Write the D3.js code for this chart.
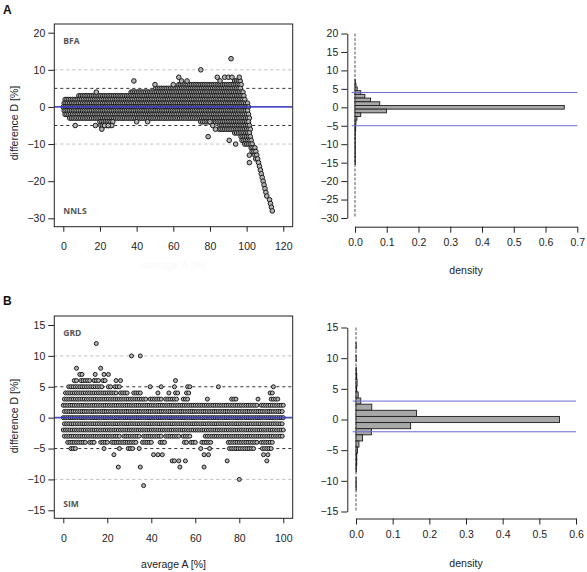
<!DOCTYPE html>
<html>
<head>
<meta charset="utf-8">
<script src="https://cdn.jsdelivr.net/npm/d3@7"></script>
<style>
  html, body { margin: 0; padding: 0; background: #fff; }
  svg { display: block; }
</style>
</head>
<body>
<svg id="chart" width="587" height="572"></svg>
<script>
// ---------------- DATA ----------------
// Panel A (BFA vs NNLS) scatter: difference rows and x-extents of dense band
const aRowY = [7, 6, 5, 4, 3, 2, 1, 0, -1, -2, -3, -4, -5, -6, -7, -8, -9, -10];
const aRowSegs = [
  [[93.5, 96.5]],
  [[63, 97]],
  [[50.5, 96.5]],
  [[37, 98]],
  [[8.5, 98.5]],
  [[1, 99]],
  [[0.5, 100.5]],
  [[0, 101]],
  [[0.5, 100.5]],
  [[1, 101]],
  [[3.5, 101.5]],
  [[20, 27], [75, 101]],
  [[20.5, 26.5], [85.5, 101.5]],
  [[85, 102]],
  [[93.5, 101.5]],
  [[97, 102]],
  [[97.5, 102.5]],
  [[99, 103]]
];
// Panel A isolated points
const aOutX = [6.5, 17.5, 18, 21, 22.5, 24.5, 38.5, 40, 46, 50, 60, 63, 64.5, 67.5, 75, 79, 84, 85.5, 88, 90, 92, 91.5, 90.5, 94, 80, 81.5, 83, 96];
const aOutY = [-5, -5, 4, -6, -5, -5, 7, -4, -4, 6, 6, 8, 7, 7, 10, -8, 8, 7, 8, 8, 8, 13, -9, -10, -4, -5, -6, 8];
// Panel A tail beyond 100
const aTailX = [101.5, 101.5, 102.5, 103.5, 104.5, 103, 104, 105, 104.5, 105.5, 105, 106, 106.5, 107, 107.5, 108, 108.5, 109, 109.5, 110, 110.5, 111, 112.5, 113, 113.5, 114];
const aTailY = [-13, -15, -11, -11, -11, -12, -12, -12, -13, -13, -14, -14, -15, -16, -17, -18, -19, -20, -21, -22, -23, -24, -25, -26, -27, -28];

// Panel A histogram (density per 1%-bin, centred on integer differences)
const aHistBins = [7, 6, 5, 4, 3, 2, 1, 0, -1, -2, -3, -4, -5, -6, -7, -8, -9, -10, -11, -12, -13, -14, -15];
const aHistDens = [0.001, 0.003, 0.007, 0.018, 0.031, 0.049, 0.078, 0.659, 0.099, 0.018, 0.006, 0.003, 0.002, 0.002, 0.001, 0.001, 0.001, 0.001, 0.001, 0.001, 0.001, 0.001, 0.001];
const aLimits = [4, -5];

// Panel B (GRD vs SIM) scatter rows
const bRowY = [12, 10, 8, 7, 6, 5, 4, 3, 2, 1, 0, -1, -2, -3, -4, -5, -6, -7, -8, -10, -11];
const bRowSegs = [
  [[15, 15]],
  [[31, 31], [35, 35]],
  [[6, 6], [17, 17]],
  [[7.5, 8.5], [14.5, 14.5], [18.5, 18.5], [20.5, 20.5]],
  [[5, 6], [8, 12], [14, 16], [18, 19], [24, 24], [26, 26], [51, 51]],
  [[2.5, 17.5], [20.5, 21.5], [23.5, 25.5], [39.5, 39.5], [44.5, 44.5], [50.5, 50.5], [56.5, 57.5], [70.5, 70.5], [95.5, 95.5]],
  [[1, 12], [13, 21], [22, 24], [26, 29], [32, 35], [43, 43], [48, 48], [51, 52], [56, 57], [94, 95]],
  [[0.5, 37.5], [39.5, 44.5], [46.5, 51.5], [54.5, 56.5], [65.5, 65.5], [76.5, 78.5], [88.5, 88.5], [94.5, 97.5]],
  [[0, 88], [90, 100]],
  [[0.5, 99.5]],
  [[0, 100]],
  [[0.5, 99.5]],
  [[0, 100]],
  [[0.5, 25.5], [27.5, 34.5], [36.5, 44.5], [46.5, 52.5], [54.5, 57.5], [64.5, 99.5]],
  [[2, 10], [12, 14], [17, 20], [22, 33], [36, 40], [44, 46], [55, 56], [58, 60], [63, 67], [75, 88], [90, 95]],
  [[3.5, 5.5], [18.5, 18.5], [25.5, 25.5], [29.5, 31.5], [34.5, 34.5], [62.5, 62.5], [66.5, 66.5], [75.5, 86.5], [90.5, 94.5]],
  [[23, 23], [41, 41], [43, 43], [45, 45], [64, 64], [66, 66], [91, 91], [93, 93]],
  [[49.5, 49.5], [50.5, 50.5], [52.5, 52.5], [55.5, 55.5], [74.5, 74.5], [92.5, 92.5]],
  [[25, 25], [35, 35], [53, 53], [64, 64]],
  [[80, 80]],
  [[36.5, 36.5]]
];
// Panel B histogram
const bHistBins = [12, 10, 8, 7, 6, 5, 4, 3, 2, 1, 0, -1, -2, -3, -4, -5, -6, -7, -8, -10, -11];
const bHistDens = [0.0005, 0.0005, 0.001, 0.002, 0.003, 0.002, 0.006, 0.013, 0.043, 0.165, 0.555, 0.149, 0.042, 0.018, 0.008, 0.004, 0.002, 0.002, 0.001, 0.0005, 0.0005];
const bLimits = [3, -2];

// Axis ticks / labels
const aXTicks = [0, 20, 40, 60, 80, 100, 120];
const aYTicks = [20, 10, 0, -10, -20, -30];
const aHYTicks = [20, 15, 10, 5, 0, -5, -10, -15, -20, -25, -30];
const aHXTicks = [0, 0.1, 0.2, 0.3, 0.4, 0.5, 0.6, 0.7];
const bXTicks = [0, 20, 40, 60, 80, 100];
const bYTicks = [15, 10, 5, 0, -5, -10, -15];
const bHXTicks = [0, 0.1, 0.2, 0.3, 0.4, 0.5, 0.6];
const panelLetters = ["A", "B"];
const methodLabels = [["BFA", "NNLS"], ["GRD", "SIM"]];
const yTitle = "difference D [%]";
const xTitle = "average A [%]";
const hTitle = "density";

// ---------------- DRAW ----------------
const svg = d3.select("#chart");
const FONT = "'Liberation Sans', Arial, sans-serif";
const BLUE_THICK = "#3b3bc4";
const BLUE_THIN = "#6a6ad0";

function expandRows(rowY, rowSegs) {
  const pts = [];
  rowY.forEach((y, i) => {
    rowSegs[i].forEach(([x0, x1]) => {
      for (let x = x0; x <= x1 + 1e-9; x += 1) pts.push([x, y]);
    });
  });
  return pts;
}

function scatterPanel(cfg) {
  const { box, x, y, xTicks, yTicks, refDark, refLight, points, r, labels, clipId } = cfg;
  const g = svg.append("g");
  svg.append("clipPath").attr("id", clipId)
    .append("rect").attr("x", box.x0).attr("y", box.y0)
    .attr("width", box.x1 - box.x0).attr("height", box.y1 - box.y0);
  const inner = g.append("g").attr("clip-path", `url(#${clipId})`);

  refLight.forEach(v => inner.append("line")
    .attr("x1", box.x0).attr("x2", box.x1).attr("y1", y(v)).attr("y2", y(v))
    .attr("stroke", "#bdbdbd").attr("stroke-width", 1).attr("stroke-dasharray", "3,3"));
  refDark.forEach(v => inner.append("line")
    .attr("x1", box.x0).attr("x2", box.x1).attr("y1", y(v)).attr("y2", y(v))
    .attr("stroke", "#333").attr("stroke-width", 1).attr("stroke-dasharray", "3,3"));

  inner.append("g").selectAll("circle").data(points).join("circle")
    .attr("cx", d => x(d[0])).attr("cy", d => y(d[1])).attr("r", r)
    .attr("fill", "#b4b4b4").attr("stroke", "#1c1c1c").attr("stroke-width", 1);

  inner.append("line")
    .attr("x1", box.x0).attr("x2", box.x1).attr("y1", y(0)).attr("y2", y(0))
    .attr("stroke", BLUE_THICK).attr("stroke-width", 1.8).attr("opacity", 0.9);

  g.append("rect").attr("x", box.x0).attr("y", box.y0)
    .attr("width", box.x1 - box.x0).attr("height", box.y1 - box.y0)
    .attr("fill", "none").attr("stroke", "#222").attr("stroke-width", 1);

  const ax = d3.axisBottom(x).tickValues(xTicks).tickSize(5).tickPadding(11).tickFormat(d3.format("d"));
  const axG = g.append("g").attr("transform", `translate(0,${box.y1})`).call(ax);
  axG.select(".domain").remove();
  const ay = d3.axisLeft(y).tickValues(yTicks).tickSize(6).tickPadding(3).tickFormat(d3.format("d"));
  const ayG = g.append("g").attr("transform", `translate(${box.x0},0)`).call(ay);
  ayG.select(".domain").remove();
  [axG, ayG].forEach(s => {
    s.selectAll("text").attr("font-family", FONT).attr("font-size", 10.5).attr("fill", "#222");
    s.selectAll("line").attr("stroke", "#222");
  });

  g.append("text").attr("x", box.x0 + 9).attr("y", labels.topY)
    .attr("font-family", "'Open Sans', 'Noto Sans', sans-serif").attr("font-weight", "bold")
    .attr("font-size", 8.5).attr("fill", "#555").text(labels.top);
  g.append("text").attr("x", box.x0 + 9).attr("y", labels.botY)
    .attr("font-family", "'Open Sans', 'Noto Sans', sans-serif").attr("font-weight", "bold")
    .attr("font-size", 8.5).attr("fill", "#555").text(labels.bot);
}

function histPanel(cfg) {
  const { x, y, yTicks, xTicks, bins, dens, limits, yAxisX, xAxisY, blueX0, blueX1, yTop, yBot } = cfg;
  const g = svg.append("g");
  g.append("line").attr("x1", x(0)).attr("x2", x(0)).attr("y1", y(yTop)).attr("y2", y(yBot))
    .attr("stroke", "#555").attr("stroke-width", 1).attr("stroke-dasharray", "3,1.5");
  g.append("g").selectAll("rect").data(bins.map((b, i) => [b, dens[i]])).join("rect")
    .attr("x", x(0)).attr("y", d => y(d[0] + 0.5))
    .attr("width", d => x(d[1]) - x(0)).attr("height", d => y(d[0] - 0.5) - y(d[0] + 0.5))
    .attr("fill", "#a8a8a8").attr("stroke", "#1e1e1e").attr("stroke-width", 0.9);
  limits.forEach(v => g.append("line").attr("x1", blueX0).attr("x2", blueX1)
    .attr("y1", y(v)).attr("y2", y(v)).attr("stroke", BLUE_THIN).attr("stroke-width", 1));

  const ay = d3.axisLeft(y).tickValues(yTicks).tickSize(6).tickPadding(3).tickSizeOuter(0).tickFormat(d3.format("d"));
  const ayG = g.append("g").attr("transform", `translate(${yAxisX},0)`).call(ay);
  const ax = d3.axisBottom(x).tickValues(xTicks).tickSize(6).tickPadding(6).tickSizeOuter(0).tickFormat(d3.format(".1f"));
  const axG = g.append("g").attr("transform", `translate(0,${xAxisY})`).call(ax);
  [axG, ayG].forEach(s => {
    s.selectAll("text").attr("font-family", FONT).attr("font-size", 10.5).attr("fill", "#222");
    s.selectAll("line").attr("stroke", "#222");
    s.select(".domain").attr("stroke", "#222");
  });
}

// ---- Panel A ----
const boxA = { x0: 54.3, x1: 292.7, y0: 24, y1: 226.7 };
const xA = d3.scaleLinear().domain([0, 120]).range([63.3, 283.3]);
const yA = d3.scaleLinear().domain([-30, 20]).range([218.3, 32.7]);
const ptsA = expandRows(aRowY, aRowSegs)
  .concat(aOutX.map((v, i) => [v, aOutY[i]]))
  .concat(aTailX.map((v, i) => [v, aTailY[i]]));
scatterPanel({ box: boxA, x: xA, y: yA, xTicks: aXTicks, yTicks: aYTicks,
  refDark: [5, -5], refLight: [10, -10], points: ptsA, r: 2.3,
  labels: { top: methodLabels[0][0], bot: methodLabels[0][1], topY: 44, botY: 214 }, clipId: "clipA" });

const xAH = d3.scaleLinear().domain([0, 0.7]).range([355, 577.3]);
const yAH = d3.scaleLinear().domain([-30, 20]).range([218, 33.5]);
histPanel({ x: xAH, y: yAH, yTicks: aHYTicks, xTicks: aHXTicks, bins: aHistBins, dens: aHistDens,
  limits: aLimits, yAxisX: 347.3, xAxisY: 226.7, blueX0: 351.7, blueX1: 577.3, yTop: 20, yBot: -30 });

// ---- Panel B ----
const boxB = { x0: 54.3, x1: 292.7, y0: 316, y1: 518.3 };
const xB = d3.scaleLinear().domain([0, 100]).range([63.3, 283.3]);
const yB = d3.scaleLinear().domain([-15, 15]).range([510.3, 325]);
const ptsB = expandRows(bRowY, bRowSegs);
scatterPanel({ box: boxB, x: xB, y: yB, xTicks: bXTicks, yTicks: bYTicks,
  refDark: [5, -5], refLight: [10, -10], points: ptsB, r: 2.0,
  labels: { top: methodLabels[1][0], bot: methodLabels[1][1], topY: 335.5, botY: 507 }, clipId: "clipB" });

const xBH = d3.scaleLinear().domain([0, 0.6]).range([356, 576]);
const yBH = d3.scaleLinear().domain([-15, 15]).range([511.5, 327.5]);
histPanel({ x: xBH, y: yBH, yTicks: bYTicks, xTicks: bHXTicks, bins: bHistBins, dens: bHistDens,
  limits: bLimits, yAxisX: 347.3, xAxisY: 518.5, blueX0: 352.7, blueX1: 576, yTop: 15, yBot: -15 });

// ---- Titles ----
svg.append("text").attr("x", 3).attr("y", 14).attr("font-family", FONT).attr("font-weight", "bold")
  .attr("font-size", 12).attr("fill", "#111").text(panelLetters[0]);
svg.append("text").attr("x", 3).attr("y", 305).attr("font-family", FONT).attr("font-weight", "bold")
  .attr("font-size", 12).attr("fill", "#111").text(panelLetters[1]);

[123, 416].forEach(cy => {
  svg.append("text").attr("transform", `translate(18,${cy}) rotate(-90)`)
    .attr("text-anchor", "middle").attr("font-family", FONT).attr("font-size", 10.5)
    .attr("fill", "#222").text(yTitle);
});
svg.append("text").attr("x", 173.5).attr("y", 567.5).attr("text-anchor", "middle")
  .attr("font-family", FONT).attr("font-size", 10.5).attr("fill", "#222").text(xTitle);
svg.append("text").attr("x", 173.5).attr("y", 268.5).attr("text-anchor", "middle")
  .attr("font-family", FONT).attr("font-size", 10.5).attr("fill", "#f9f9f9").text(xTitle);
svg.append("text").attr("x", 466).attr("y", 274).attr("text-anchor", "middle")
  .attr("font-family", FONT).attr("font-size", 10.5).attr("fill", "#222").text(hTitle);
svg.append("text").attr("x", 466).attr("y", 567).attr("text-anchor", "middle")
  .attr("font-family", FONT).attr("font-size", 10.5).attr("fill", "#222").text(hTitle);
</script>
</body>
</html>
